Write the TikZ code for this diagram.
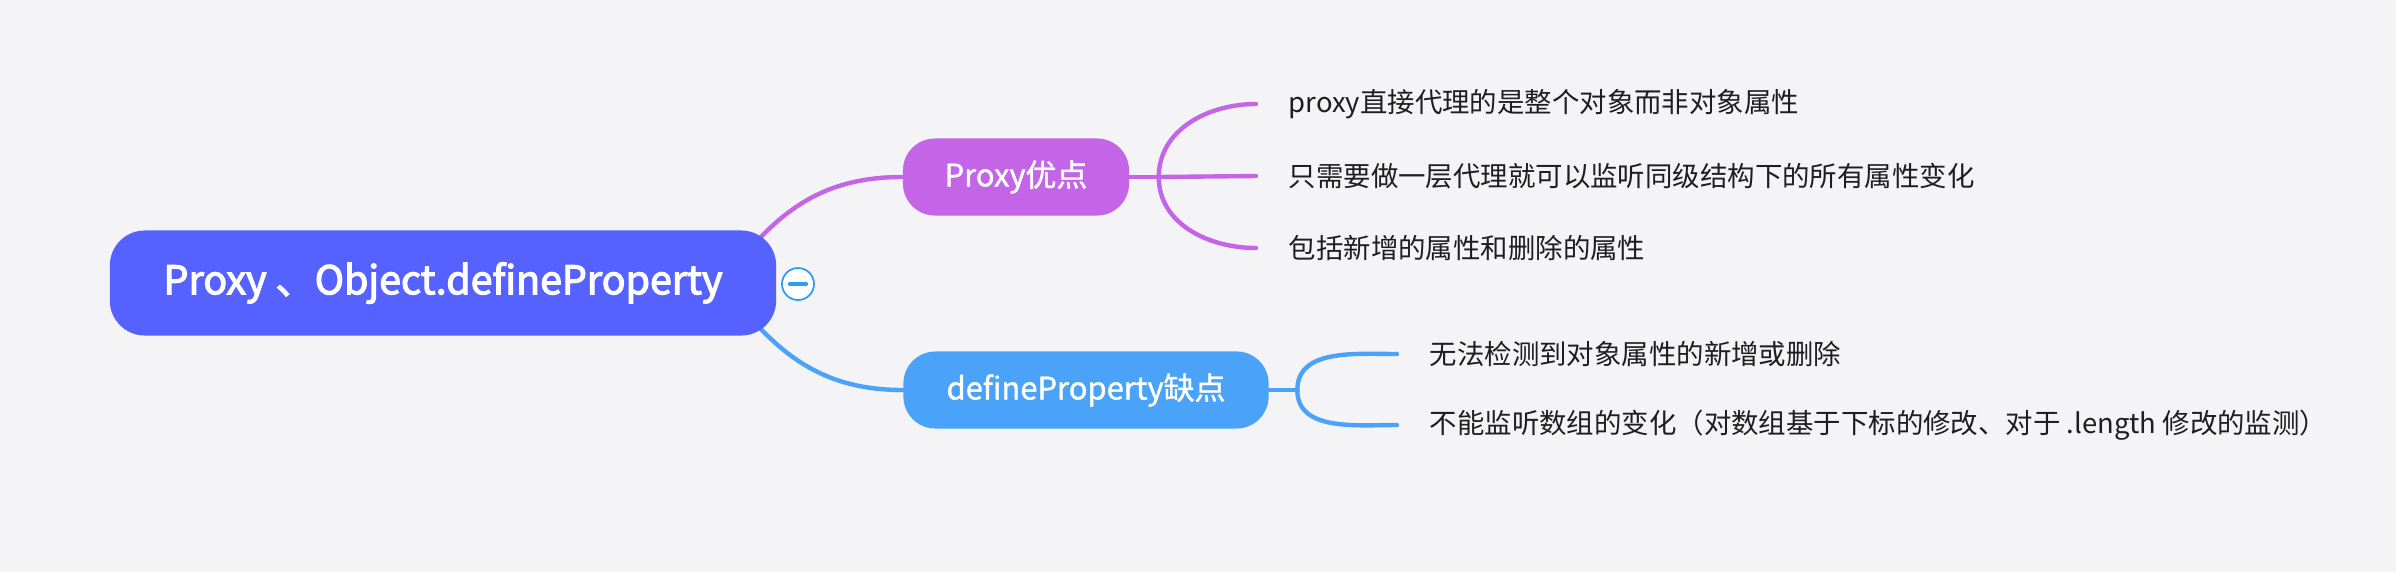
\documentclass[tikz,border=0pt]{standalone}
\usepackage{fontspec}
\usetikzlibrary{backgrounds}
\newfontfamily\cjk{Noto Sans CJK SC}
\newfontfamily\cjkmid[FakeBold=3]{Noto Sans CJK SC}
\newfontfamily\cjklite[FakeBold=1.2]{Noto Sans CJK SC}
\definecolor{bgcol}{RGB}{244,244,247}
\definecolor{rootblue}{RGB}{86,98,255}
\definecolor{purp}{RGB}{195,101,230}
\definecolor{blu}{RGB}{74,163,248}
\definecolor{foldblue}{RGB}{45,156,245}
\definecolor{leafgray}{RGB}{30,30,30}

\begin{document}
\begin{tikzpicture}[x=0.01cm,y=-0.01cm,
    rootnode/.style={rounded corners=0.35cm, fill=rootblue, text=white, minimum width=6.66cm, minimum height=1.05cm, font=\cjkmid\fontsize{11.2}{13}\selectfont},
    branchnode/.style={rounded corners=0.32cm, text=white, minimum height=0.77cm, font=\cjklite\fontsize{8.8}{10}\selectfont},
    leafnode/.style={anchor=west, inner sep=0pt, text=leafgray, font=\cjk\fontsize{7.8}{9}\selectfont},
    link/.style={line width=1.25pt, line cap=round}]

        \node[rootnode] (root) at (443,283) {Proxy 、Object.defineProperty};
        \node[branchnode, fill=purp, minimum width=2.26cm] (adv) at (1016,177) {Proxy优点};
        \node[branchnode, fill=blu, minimum width=3.65cm] (dis) at (1086,390) {defineProperty缺点};

        \node[leafnode] (adv1) at (1288,104) {proxy直接代理的是整个对象而非对象属性};
        \node[leafnode] (adv2) at (1288,176) {只需要做一层代理就可以监听同级结构下的所有属性变化};
        \node[leafnode] (adv3) at (1288,248) {包括新增的属性和删除的属性};
        \node[leafnode] (dis1) at (1429,354) {无法检测到对象属性的新增或删除};
        \node[leafnode] (dis2) at (1429,425) {不能监听数组的变化（对数组基于下标的修改、对于 .length 修改的监测）};

        \node[circle, draw=foldblue, fill=white, line width=0.5pt, minimum size=0.32cm, inner sep=0pt] (fold) at (798,284) {};
        \draw[foldblue, line width=1.2pt, line cap=round] ([xshift=-0.08cm]fold.center) -- ([xshift=0.08cm]fold.center);

        \begin{pgfonlayer}{background}
            \fill[bgcol] (0,0) rectangle (2396,572);
            % root to branches
            \draw[link, purp] ([shift={(-0.31cm,-0.24cm)}]root.north east) to[out=50,in=180] (adv.west);
            \draw[link, blu] ([shift={(-0.31cm,0.24cm)}]root.south east) to[out=-50,in=180] (dis.west);
            % brackets
            \draw[link, purp] (adv.east) -- ++(0.29cm,0) coordinate (advj);
            \draw[link, purp] (advj) to[out=90,in=180] ([xshift=-0.32cm]adv1.west);
            \draw[link, purp] (advj) -- ([xshift=-0.32cm]adv2.west);
            \draw[link, purp] (advj) to[out=-90,in=180] ([xshift=-0.32cm]adv3.west);
            \draw[link, blu] (dis.east) -- ++(0.28cm,0) coordinate (disj);
            \draw[link, blu] (disj) to[out=90,in=180] ([xshift=-0.32cm]dis1.west);
            \draw[link, blu] (disj) to[out=-90,in=180] ([xshift=-0.32cm]dis2.west);
        \end{pgfonlayer}
    \end{tikzpicture}
\end{document}
